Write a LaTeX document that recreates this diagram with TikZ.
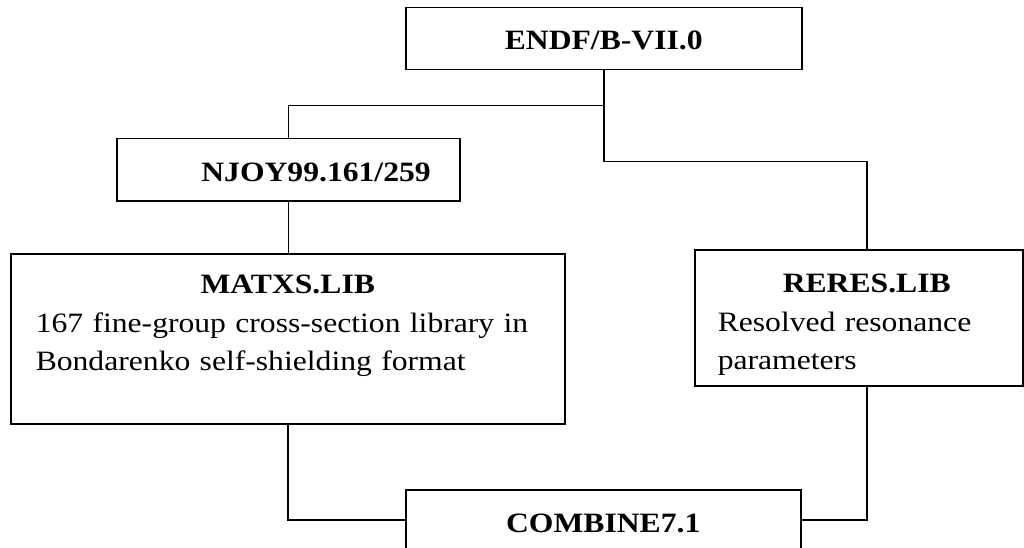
\documentclass[tikz,border=0pt]{standalone}
\usepackage{fontspec}
\setmainfont[FakeStretch=1.13]{Liberation Serif}

\tikzset{
	libbox/.style={draw, line width=1.5pt, inner ysep=0pt, anchor=north west},
	link/.style={line width=1.5pt}
}

\begin{document}
\begin{tikzpicture}[x=1pt, y=-1pt, font=\fontsize{28}{38.5}\selectfont]
			
			% Page frame
			\useasboundingbox (0,0) rectangle (1024,548);
			\clip (0,0) rectangle (1024,548);
			
			% Evaluated data and processing code
			\node[libbox, inner xsep=10pt, text width=376pt, align=center, text height=42pt, text depth=20pt] (endf) at (405,7) {\textbf{ENDF/B-VII.0}};
			\node[libbox, inner xsep=29pt, text width=285pt, align=right, text height=43pt, text depth=19pt] (njoy) at (116,138) {\textbf{NJOY99.161/259}};
			
			% Libraries
			\node[libbox, inner xsep=25pt, text width=504pt, align=left, text height=40pt, text depth=130pt] (matxs) at (10,253)
				{\hfill\textbf{MATXS.LIB}\hfill\null\\ 167 fine-group cross-section library in\\ Bondarenko self-shielding format};
			\node[libbox, inner xsep=23pt, text width=282pt, align=left, text height=43pt, text depth=93pt] (reres) at (694,249)
				{\hspace*{16pt}\hfill\textbf{RERES.LIB}\hfill\null\\ Resolved resonance\\ parameters};
			
			% Combining code (cut at the bottom)
			\node[libbox, inner xsep=10pt, text width=375pt, align=center, text height=43pt, text depth=17pt] (combine) at (405,489) {\textbf{COMBINE7.1}};
			
			% Connections
			\draw[link] (endf.south) -- ++(0,35) -| (njoy.north);
			\draw[link] (endf.south) -- ++(0,91) -| ([xshift=8pt]reres.north);
			\draw[link] (njoy.south) -- (njoy.south |- matxs.north);
			\draw[link] (matxs.south) |- (combine.west);
			\draw[link] ([xshift=8pt]reres.south) |- (combine.east);
			
		\end{tikzpicture}
\end{document}
